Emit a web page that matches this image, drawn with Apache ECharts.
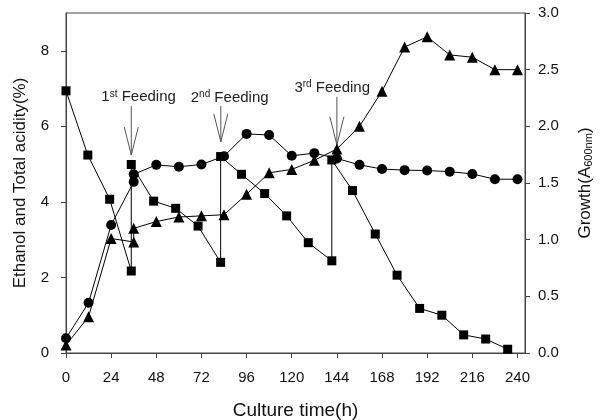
<!DOCTYPE html>
<html lang="en">
<head>
    <meta charset="UTF-8"/>
    <title>Culture time</title>
    <script src="https://cdn.jsdelivr.net/npm/echarts@6/dist/echarts.min.js"></script>
    <style>
        html, body { margin: 0; padding: 0; background: #fff; }
        #main { width: 607px; height: 420px; }
    </style>
</head>
<body>
<div id="main"></div>
<script>
    // x 轴刻度
    var xTicks = [0, 24, 48, 72, 96, 120, 144, 168, 192, 216, 240];
    var leftTicks = [0, 2, 4, 6, 8];

    // 方块 (乙醇) - 补料时同一时间有两个点
    var sqTime = [0, 11.6, 23.2, 34.7, 34.7, 46.6, 58.3, 70.2, 82.2, 82.2, 93.3, 105.6, 117.3, 128.8,
        141.3, 141.3, 152.3, 164.4, 176, 188, 199.8, 211.4, 223.1, 234.8];
    var sqVal = [6.94, 5.24, 4.07, 2.17, 4.99, 4.02, 3.83, 3.36, 2.40, 5.20, 4.73, 4.22, 3.63, 2.92,
        2.44, 5.11, 4.30, 3.15, 2.06, 1.18, 1.00, 0.48, 0.37, 0.10];

    // 圆点 (总酸)
    var ciTime = [0, 12, 24, 36, 36, 48, 60, 72, 84, 96, 108, 120, 132, 144, 156, 168, 180, 192, 204, 216, 228, 240];
    var ciVal = [0.39, 1.33, 3.39, 4.53, 4.73, 4.98, 4.93, 4.99, 5.21, 5.80, 5.77, 5.22, 5.29, 5.15,
        4.98, 4.87, 4.84, 4.83, 4.80, 4.74, 4.60, 4.60];

    // 三角 (生长 A600, 右轴)
    var trTime = [0, 12, 24, 36, 36, 48, 60, 72, 84, 96, 108, 120, 132, 144, 156, 168, 180, 192, 204, 216, 228, 240];
    var trVal = [0.07, 0.32, 1.01, 0.98, 1.10, 1.16, 1.20, 1.21, 1.22, 1.40, 1.59, 1.62, 1.70, 1.80,
        2.00, 2.31, 2.70, 2.79, 2.63, 2.61, 2.50, 2.50];

    // 补料标注: 箭头时间, 箭头顶部, 箭头尖, 文字中心时间, 文字中心值
    var feedTime = [34.7, 82.3, 144];
    var feedTop = [6.54, 6.54, 6.78];
    var feedTip = [5.24, 5.59, 5.51];
    var feedTextTime = [38.6, 87, 141.5];
    var feedTextVal = [6.78, 6.76, 7.03];
    var feedNum = ['1', '2', '3'];
    var feedSup = ['st', 'nd', 'rd'];

    function pairs(a, b) {
        var out = [];
        for (var i = 0; i < a.length; i++) out.push([a[i], b[i]]);
        return out;
    }

    var feedData = [];
    for (var i = 0; i < feedTime.length; i++) {
        feedData.push([feedTime[i], feedTop[i], feedTip[i], feedTextTime[i], feedTextVal[i], i]);
    }

    var font = 'Liberation Sans, Arial, sans-serif';
    var axisColor = '#444';

    var myChart = echarts.init(document.getElementById('main'));
    myChart.setOption({
        animation: false,
        textStyle: { fontFamily: font },
        grid: {
            left: 66, right: 82, top: 13, bottom: 67,
            outerBoundsMode: 'none', containLabel: false,
            show: true, borderColor: axisColor, borderWidth: 1
        },
        xAxis: {
            type: 'value', min: 0, max: 244,
            name: 'Culture time(h)', nameLocation: 'middle', nameGap: 48,
            nameTextStyle: { fontSize: 19, color: '#111', fontFamily: font },
            axisLine: { show: true, lineStyle: { color: axisColor } },
            axisTick: { show: true, length: 5, customValues: xTicks, lineStyle: { color: axisColor } },
            axisLabel: { customValues: xTicks, fontSize: 15, color: '#111', margin: 17, fontFamily: font },
            splitLine: { show: false }
        },
        yAxis: [{
            type: 'value', min: 0, max: 9, position: 'left',
            name: 'Ethanol and Total acidity(%)', nameLocation: 'middle', nameGap: 37,
            nameTextStyle: { fontSize: 17, color: '#111', fontFamily: font },
            axisLine: { show: true, lineStyle: { color: axisColor } },
            axisTick: { show: true, length: 5, customValues: leftTicks, lineStyle: { color: axisColor } },
            axisLabel: { customValues: leftTicks, fontSize: 15, color: '#111', margin: 17, fontFamily: font },
            splitLine: { show: false }
        }, {
            type: 'value', min: 0, max: 3, interval: 0.5, position: 'right',
            name: '{t|Growth(A}{s|600nm}{t|)}', nameLocation: 'middle', nameGap: 52,
            nameTextStyle: {
                rich: {
                    t: { fontSize: 17, color: '#111', fontFamily: font },
                    s: { fontSize: 11, color: '#111', fontFamily: font, verticalAlign: 'bottom', padding: [6, 0, 0, 0] }
                }
            },
            axisLine: { show: true, lineStyle: { color: axisColor } },
            axisTick: { show: true, length: 5, lineStyle: { color: axisColor } },
            axisLabel: {
                fontSize: 15, color: '#111', margin: 13, fontFamily: font,
                formatter: function (v) { return v.toFixed(1); }
            },
            splitLine: { show: false }
        }],
        series: [{
            name: 'Ethanol', type: 'line', yAxisIndex: 0,
            data: pairs(sqTime, sqVal),
            symbol: 'rect', symbolSize: 9,
            itemStyle: { color: '#000' },
            lineStyle: { color: '#000', width: 1 }
        }, {
            name: 'Total acidity', type: 'line', yAxisIndex: 0,
            data: pairs(ciTime, ciVal),
            symbol: 'circle', symbolSize: 10,
            itemStyle: { color: '#000' },
            lineStyle: { color: '#000', width: 1 }
        }, {
            name: 'Growth', type: 'line', yAxisIndex: 1,
            data: pairs(trTime, trVal),
            symbol: 'triangle', symbolSize: 11,
            itemStyle: { color: '#000' },
            lineStyle: { color: '#000', width: 1 }
        }, {
            // 补料箭头与文字
            type: 'custom', yAxisIndex: 0,
            data: feedData,
            encode: { x: [0, 3], y: [1, 2, 4] },
            renderItem: function (params, api) {
                var top = api.coord([api.value(0), api.value(1)]);
                var tip = api.coord([api.value(0), api.value(2)]);
                var tp = api.coord([api.value(3), api.value(4)]);
                var k = api.value(5);
                return {
                    type: 'group',
                    children: [{
                        type: 'line',
                        shape: { x1: top[0], y1: top[1], x2: tip[0], y2: tip[1] },
                        style: { stroke: '#555', lineWidth: 1 }
                    }, {
                        type: 'polyline',
                        shape: { points: [[tip[0] - 7, tip[1] - 28], [tip[0], tip[1]], [tip[0] + 7, tip[1] - 28]] },
                        style: { stroke: '#555', fill: null, lineWidth: 1 }
                    }, {
                        type: 'text', x: tp[0], y: tp[1],
                        style: {
                            text: '{n|' + feedNum[k] + '}{s|' + feedSup[k] + '}{n| Feeding}',
                            align: 'center', verticalAlign: 'middle',
                            rich: {
                                n: { fontSize: 15, fill: '#222', fontFamily: font },
                                s: { fontSize: 10, fill: '#222', fontFamily: font, verticalAlign: 'top', padding: [0, 0, 6, 0] }
                            }
                        }
                    }]
                };
            }
        }]
    });
</script>
</body>
</html>
